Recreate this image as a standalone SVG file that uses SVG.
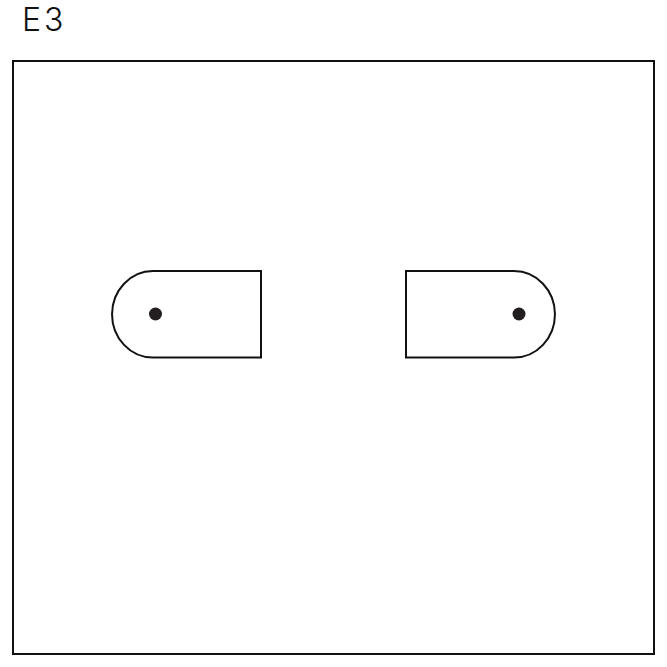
<svg xmlns="http://www.w3.org/2000/svg" width="667" height="667" viewBox="0 0 667 667">
<style>
.ln{fill:none;stroke:#111;stroke-width:2}
.dot{fill:#231f20}
.lbl{font-family:Inter,"Liberation Sans",Arial,sans-serif;font-size:32px;font-weight:300;letter-spacing:3px;fill:#111}
</style>
<rect width="667" height="667" fill="#fff"/>
<text class="lbl" x="22" y="31">E3</text>
<rect class="ln" x="13" y="61" width="641" height="593"/>
<g id="left">
<path class="ln" d="M261,271 H153 A41,43.3 0 0 0 153,357.6 H261 Z"/>
<circle class="dot" cx="155.5" cy="314" r="6.5"/>
</g>
<g id="right">
<path class="ln" d="M406,271 H514 A41,43.3 0 0 1 514,357.6 H406 Z"/>
<circle class="dot" cx="519" cy="314" r="6.5"/>
</g>
</svg>
